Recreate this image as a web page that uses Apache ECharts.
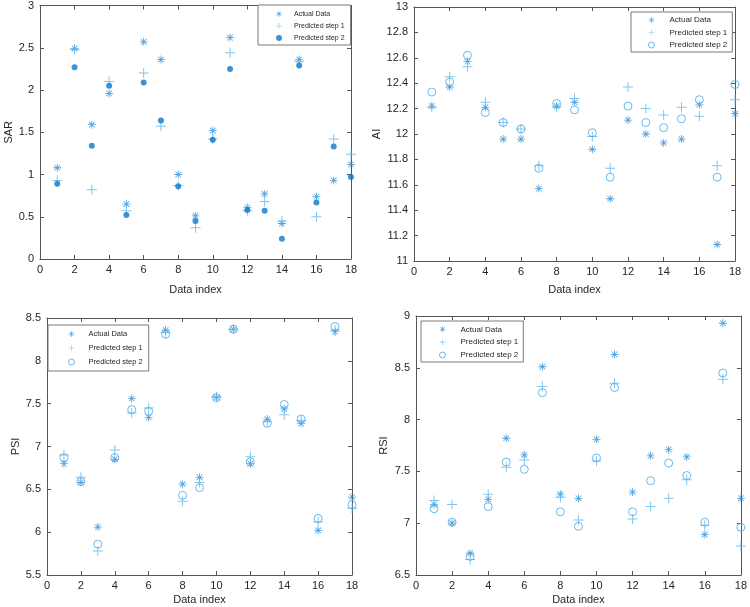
<!DOCTYPE html>
<html><head><meta charset="utf-8">
<script src="https://cdn.jsdelivr.net/npm/echarts@6/dist/echarts.min.js"></script>
<style>html,body{margin:0;padding:0;background:#fff}#c{width:750px;height:607px}</style>
</head><body><div id="c"></div>
<script>
const dataIndex = [1,2,3,4,5,6,7,8,9,10,11,12,13,14,15,16,17,18];

const sarActual = [1.08,2.49,1.59,1.96,0.65,2.57,2.36,1.00,0.51,1.52,2.62,0.61,0.77,0.42,2.36,0.74,0.93,1.12];
const sarPred1  = [0.93,2.48,0.82,2.10,0.57,2.20,1.57,0.87,0.37,1.42,2.44,0.57,0.68,0.45,2.34,0.50,1.42,1.24];
const sarPred2  = [0.89,2.27,1.34,2.05,0.52,2.09,1.64,0.86,0.45,1.41,2.25,0.58,0.57,0.24,2.29,0.67,1.33,0.97];

const aiActual = [12.22,12.37,12.57,12.21,11.96,11.96,11.57,12.22,12.25,11.88,11.49,12.11,12.00,11.93,11.96,12.23,11.13,12.16];
const aiPred1  = [12.21,12.45,12.53,12.25,12.09,12.04,11.75,12.21,12.28,11.98,11.73,12.37,12.20,12.15,12.21,12.14,11.75,12.27];
const aiPred2  = [12.33,12.41,12.62,12.17,12.09,12.04,11.73,12.24,12.19,12.01,11.66,12.22,12.09,12.05,12.12,12.27,11.66,12.39];

const psiActual = [6.80,6.58,6.06,6.85,7.56,7.34,8.36,6.56,6.64,7.57,8.37,6.80,7.32,7.44,7.27,6.02,8.34,6.41];
const psiPred1  = [6.90,6.64,5.78,6.96,7.39,7.45,8.33,6.36,6.58,7.58,8.37,6.88,7.29,7.37,7.30,6.12,8.36,6.28];
const psiPred2  = [6.87,6.59,5.86,6.87,7.43,7.41,8.31,6.43,6.52,7.57,8.37,6.82,7.27,7.49,7.32,6.16,8.40,6.32];

const rsiActual = [7.18,7.00,6.71,7.23,7.82,7.66,8.51,7.28,7.24,7.81,8.63,7.30,7.65,7.71,7.64,6.89,8.93,7.24];
const rsiPred1  = [7.22,7.18,6.65,7.28,7.54,7.61,8.32,7.25,7.03,7.60,8.35,7.04,7.16,7.24,7.42,6.98,8.39,6.78];
const rsiPred2  = [7.14,7.01,6.68,7.16,7.59,7.52,8.26,7.11,6.97,7.63,8.31,7.11,7.41,7.58,7.46,7.01,8.45,6.96];

const legendNames = ['Actual Data','Predicted step 1','Predicted step 2'];

const C_ACT = '#2489d6', C_P1 = '#62b6ec', C_DOT = '#0b78cc', C_CIR = '#45a8e6';
const PLUS = 'path://M4.5,0H5.5V10H4.5ZM0,4.5H10V5.5H0Z';
const STAR = 'path://M4.5,0H5.5V10H4.5ZM0,4.5H10V5.5H0ZM1.15,1.85L1.85,1.15L8.85,8.15L8.15,8.85ZM8.15,1.15L8.85,1.85L1.85,8.85L1.15,8.15Z';
const AX = '#262626', LINE = '#555555';
const FONT = 'Liberation Sans, Arial, sans-serif';

const panels = [
  {grid:{left:40,top:4,width:311,height:255}, yName:'SAR', yMin:0, yMax:3, yInt:0.5, yGap:22, xGap:25,
   data:[sarActual,sarPred1,sarPred2], dot:true,
   legend:{left:258,top:5,font:7,pad:[4,6,2,18],gap:2,tpad:7}},
  {grid:{left:414,top:7,width:321,height:254}, yName:'AI', yMin:11, yMax:13, yInt:0.2, yGap:27, xGap:23,
   data:[aiActual,aiPred1,aiPred2], dot:false,
   legend:{left:631,top:12,font:8,pad:[3,5,2,17],gap:2.5,tpad:10}},
  {grid:{left:47,top:318,width:305,height:257}, yName:'PSI', yMin:5.5, yMax:8.5, yInt:0.5, yGap:25, xGap:19,
   data:[psiActual,psiPred1,psiPred2], dot:false,
   legend:{left:48,top:325,font:7.5,pad:[4,6,4,20],gap:4,tpad:9}},
  {grid:{left:416,top:316,width:329,height:259}, yName:'RSI', yMin:6.5, yMax:9, yInt:0.5, yGap:27, xGap:19,
   data:[rsiActual,rsiPred1,rsiPred2], dot:false,
   legend:{left:421,top:321,font:8,pad:[3.3,5,2,18],gap:2.85,tpad:10}}
];

const option = {animation:false, grid:[], xAxis:[], yAxis:[], series:[], legend:[]};
const axisLine = {show:true, onZero:false, lineStyle:{color:LINE, width:1}};
const tick = {inside:true, length:4, lineStyle:{color:LINE}};
const lbl = {color:AX, fontSize:11, fontFamily:FONT};

panels.forEach((p, i) => {
  option.grid.push(Object.assign({containLabel:false}, p.grid));
  const xb = option.xAxis.length;
  option.xAxis.push({type:'value', gridIndex:i, position:'bottom', min:0, max:18, interval:2,
    axisLine, axisTick:tick, splitLine:{show:false},
    axisLabel:Object.assign({margin:5}, lbl),
    name:'Data index', nameLocation:'middle', nameGap:p.xGap, nameTextStyle:lbl});
  option.xAxis.push({type:'value', gridIndex:i, position:'top', min:0, max:18, interval:2,
    axisLine, axisTick:tick, splitLine:{show:false}, axisLabel:{show:false}});
  const yb = option.yAxis.length;
  option.yAxis.push({type:'value', gridIndex:i, position:'left', min:p.yMin, max:p.yMax, interval:p.yInt,
    axisLine, axisTick:tick, splitLine:{show:false},
    axisLabel:Object.assign({margin:6}, lbl),
    name:p.yName, nameLocation:'middle', nameGap:p.yGap, nameTextStyle:lbl});
  option.yAxis.push({type:'value', gridIndex:i, position:'right', min:p.yMin, max:p.yMax, interval:p.yInt,
    axisLine, axisTick:tick, splitLine:{show:false}, axisLabel:{show:false}});

  const mk = arr => dataIndex.map((x, k) => [x, arr[k]]);
  const styles = [
    {symbol:STAR, symbolSize:8, itemStyle:{color:C_ACT}},
    {symbol:PLUS, symbolSize:10, itemStyle:{color:C_P1}},
    p.dot ? {symbol:'circle', symbolSize:6, itemStyle:{color:C_DOT}}
          : {symbol:'circle', symbolSize:8, itemStyle:{color:'rgba(0,0,0,0)', borderColor:C_CIR, borderWidth:1}}
  ];
  styles.forEach((s, k) => {
    option.series.push(Object.assign({type:'scatter', name:legendNames[k], xAxisIndex:xb, yAxisIndex:yb,
      data:mk(p.data[k]), silent:true}, s));
  });
  const L = p.legend;
  option.legend.push({
    left:L.left, top:L.top, orient:'vertical', itemWidth:6, itemHeight:6, itemGap:L.gap,
    borderColor:'#7a7a7a', borderWidth:1, padding:L.pad, backgroundColor:'#fff',
    textStyle:{fontSize:L.font, lineHeight:10, color:AX, fontFamily:FONT, padding:[0,0,0,L.tpad]},
    selectedMode:false,
    data:styles.map((s, k) => ({name:legendNames[k], icon:s.symbol,
      itemStyle:Object.assign({}, s.itemStyle)}))
  });
});

const chart = echarts.init(document.getElementById('c'), null, {renderer:'canvas'});
chart.setOption(option);
</script>
</body></html>
